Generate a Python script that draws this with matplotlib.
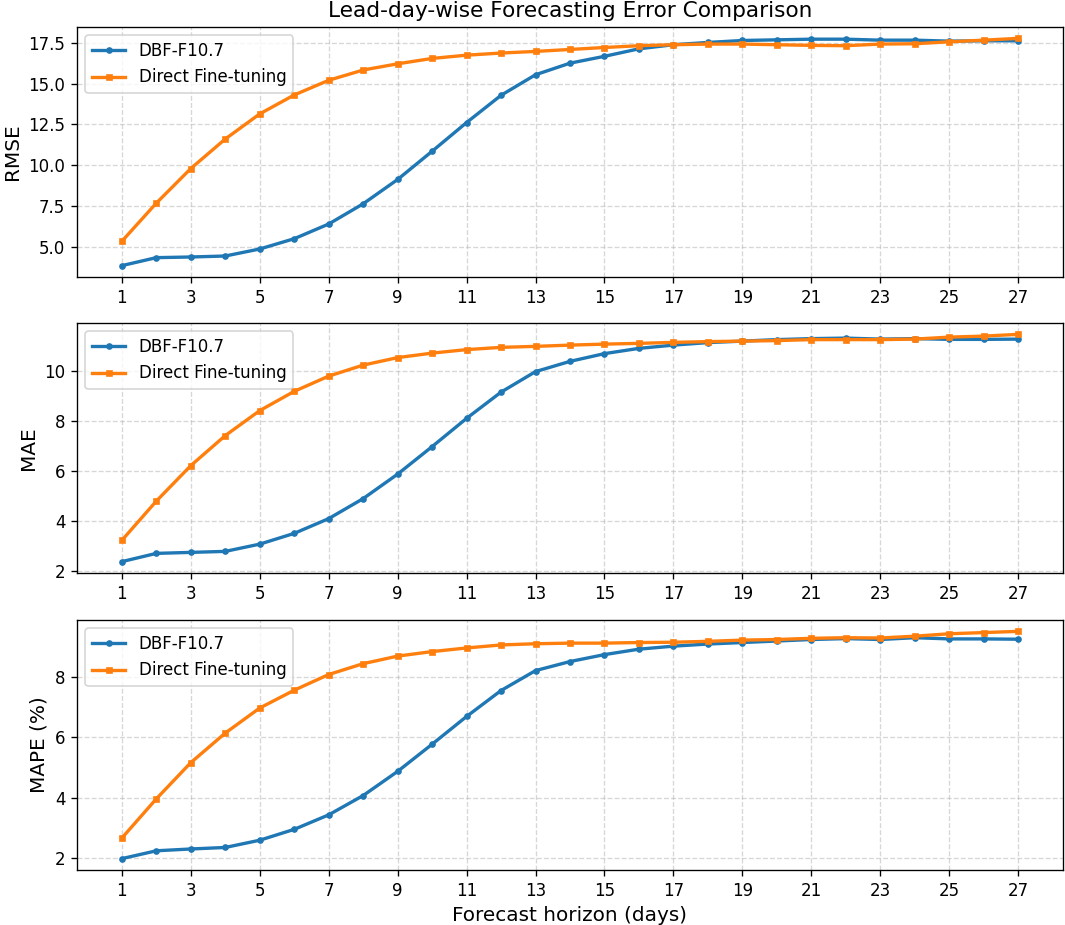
import matplotlib
matplotlib.use("Agg")
import matplotlib.pyplot as plt
import numpy as np

days = np.arange(1, 28)

rmse_dbf = [3.84, 4.33, 4.37, 4.43, 4.86, 5.49, 6.39, 7.63, 9.12, 10.85, 12.61, 14.28, 15.54, 16.25,
            16.67, 17.13, 17.38, 17.52, 17.64, 17.68, 17.72, 17.72, 17.66, 17.66, 17.60, 17.62, 17.62]
rmse_ft = [5.33, 7.67, 9.79, 11.60, 13.14, 14.30, 15.20, 15.83, 16.21, 16.54, 16.74, 16.87, 16.97, 17.09,
           17.21, 17.32, 17.38, 17.42, 17.42, 17.38, 17.34, 17.32, 17.42, 17.44, 17.56, 17.66, 17.77]

mae_dbf = [2.39, 2.72, 2.76, 2.80, 3.09, 3.52, 4.11, 4.91, 5.89, 6.99, 8.12, 9.17, 9.99, 10.40,
           10.71, 10.92, 11.05, 11.15, 11.21, 11.27, 11.31, 11.33, 11.29, 11.31, 11.28, 11.28, 11.29]
mae_ft = [3.24, 4.81, 6.23, 7.43, 8.43, 9.20, 9.81, 10.25, 10.55, 10.73, 10.87, 10.96, 11.00, 11.05,
          11.09, 11.12, 11.16, 11.19, 11.21, 11.23, 11.27, 11.27, 11.27, 11.29, 11.37, 11.41, 11.48]

mape_dbf = [1.98, 2.24, 2.30, 2.35, 2.59, 2.95, 3.43, 4.07, 4.87, 5.77, 6.69, 7.55, 8.21, 8.51,
            8.74, 8.92, 9.02, 9.09, 9.14, 9.19, 9.24, 9.27, 9.24, 9.30, 9.26, 9.26, 9.25]
mape_ft = [2.66, 3.96, 5.16, 6.14, 6.97, 7.56, 8.08, 8.44, 8.69, 8.84, 8.96, 9.06, 9.10, 9.12,
           9.12, 9.14, 9.15, 9.18, 9.22, 9.24, 9.28, 9.30, 9.29, 9.35, 9.43, 9.47, 9.51]

panels = [("RMSE", rmse_dbf, rmse_ft), ("MAE", mae_dbf, mae_ft), ("MAPE (%)", mape_dbf, mape_ft)]

fig = plt.figure(figsize=(1065 / 120, 925 / 120), dpi=120)
tops = [27, 323, 620]
axes = []
for i, (name, dbf, ft) in enumerate(panels):
    top = 1 - tops[i] / 925
    ax = fig.add_axes([77 / 1065, top - 250 / 925, 986 / 1065, 250 / 925])
    ax.plot(days, dbf, marker='o', markersize=3, linewidth=2, label='DBF-F10.7')
    ax.plot(days, ft, marker='s', markersize=3, linewidth=2, label='Direct Fine-tuning')
    ax.set_ylabel(name, fontsize=12)
    ax.set_xticks(np.arange(1, 28, 2))
    ax.tick_params(labelsize=10)
    ax.grid(True, linestyle='--', alpha=0.5)
    ax.legend(loc='upper left', fontsize=10)
    axes.append(ax)

axes[0].set_title('Lead-day-wise Forecasting Error Comparison', fontsize=13)
axes[2].set_xlabel('Forecast horizon (days)', fontsize=12)

fig.savefig('out.png', dpi=120)
